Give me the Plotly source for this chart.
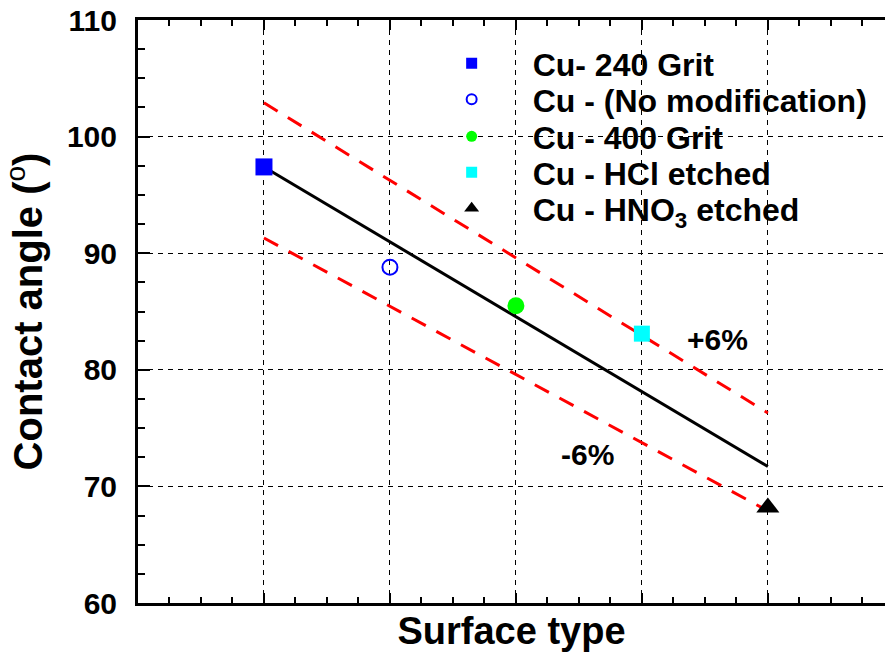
import plotly.graph_objects as go

# Data
surface_x = [1, 2, 3, 4, 5]
names = ["Cu- 240 Grit", "Cu - (No modification)", "Cu - 400 Grit",
         "Cu - HCl etched", "Cu - HNO<sub>3</sub> etched"]
angles = [97.4, 88.8, 85.5, 83.1, 68.2]

fit_x = [1, 5]
fit_y = [97.4, 71.7]
plus6_y = [102.9, 76.3]
minus6_y = [91.3, 67.9]

symbols = ["square", "circle-open", "circle", "square", "triangle-up"]
colors = ["#0000FF", "#0000FF", "#00FF00", "#00FFFF", "#000000"]
sizes = [17, 15, 17, 16, 20]
legend_sizes = [11, 10, 11, 11, 13]

FONT = "Liberation Sans, Arial, sans-serif"

fig = go.Figure()

fig.add_trace(go.Scatter(x=fit_x, y=plus6_y, mode="lines", showlegend=False,
                         line=dict(color="#FF0000", width=3, dash="16px,12px")))
fig.add_trace(go.Scatter(x=fit_x, y=minus6_y, mode="lines", showlegend=False,
                         line=dict(color="#FF0000", width=3, dash="16px,12px")))
fig.add_trace(go.Scatter(x=fit_x, y=fit_y, mode="lines", showlegend=False,
                         line=dict(color="#000000", width=3)))

legend_ids = ["legend", "legend2", "legend3", "legend4", "legend5"]
for i in range(len(surface_x)):
    lw = 2 if symbols[i] == "circle-open" else 0
    # data marker
    fig.add_trace(go.Scatter(
        x=[surface_x[i]], y=[angles[i]], mode="markers", name=names[i],
        showlegend=False,
        marker=dict(symbol=symbols[i], color=colors[i], size=sizes[i],
                    line=dict(color=colors[i], width=lw)),
    ))
    # legend entry (smaller symbol, as in the reference)
    fig.add_trace(go.Scatter(
        x=[None], y=[None], mode="markers", name=names[i],
        legend=legend_ids[i],
        marker=dict(symbol=symbols[i], color=colors[i], size=legend_sizes[i],
                    line=dict(color=colors[i], width=lw)),
    ))

fig.add_annotation(x=4.6, y=82.6, text="<b>+6%</b>", showarrow=False,
                   font=dict(family=FONT, size=30, color="black"))
fig.add_annotation(x=3.57, y=72.7, text="<b>-6%</b>", showarrow=False,
                   font=dict(family=FONT, size=30, color="black"))

# one small legend per row so the row spacing matches the reference
row_centers_px = [63, 99, 136, 172, 208]
legend_layout = {}
for lid, c in zip(legend_ids, row_centers_px):
    legend_layout[lid] = dict(
        x=0.365, y=(603 - (c - 27)) / 583, xanchor="left", yanchor="top",
        bgcolor="rgba(0,0,0,0)", itemwidth=112,
        font=dict(family=FONT, size=32, color="black", weight="bold"))

fig.update_layout(
    width=885, height=658,
    margin=dict(l=138, r=0, t=20, b=55),
    plot_bgcolor="white", paper_bgcolor="white",
    font=dict(family=FONT, color="black"),
    **legend_layout,
    xaxis=dict(
        range=[0, 5.93], showticklabels=False,
        tickvals=[1, 2, 3, 4, 5], ticks="inside", ticklen=10, tickwidth=2,
        tickcolor="black",
        minor=dict(dtick=0.25, tick0=0, ticks="inside", ticklen=6, tickwidth=2,
                   tickcolor="black", showgrid=False),
        showline=True, linecolor="black", linewidth=3, mirror="ticks",
        showgrid=True, gridcolor="black", gridwidth=1, griddash="5px,5px",
        zeroline=False,
        title=dict(text="<b>Surface type</b>", standoff=13,
                   font=dict(family=FONT, size=38, color="black")),
    ),
    yaxis=dict(
        range=[60, 110], tickvals=[60, 70, 80, 90, 100, 110],
        ticks="inside", ticklen=12, tickwidth=2, tickcolor="black",
        ticklabelstandoff=12,
        minor=dict(dtick=2.5, tick0=60, ticks="inside", ticklen=7, tickwidth=2,
                   tickcolor="black", showgrid=False),
        showline=True, linecolor="black", linewidth=3,
        showgrid=True, gridcolor="black", gridwidth=1, griddash="5px,5px",
        zeroline=False,
        tickfont=dict(family=FONT, size=30, color="black", weight="bold"),
        title=dict(text="<b>Contact angle (</b><sup>o</sup><b>)</b>", standoff=26,
                   font=dict(family=FONT, size=40, color="black")),
    ),
)

fig.write_html("out.html")
